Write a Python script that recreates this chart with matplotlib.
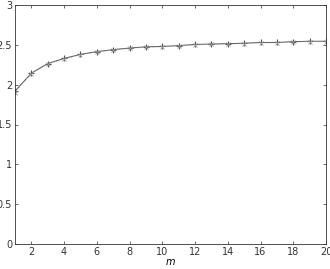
import matplotlib
matplotlib.use("Agg")
import matplotlib.pyplot as plt

m = list(range(1, 21))
series_a = [1.92, 2.145, 2.265, 2.33, 2.38, 2.415, 2.44, 2.46, 2.475, 2.48,
            2.49, 2.505, 2.51, 2.515, 2.52, 2.53, 2.53, 2.54, 2.545, 2.545]
series_b = [1.90, 2.14, 2.26, 2.32, 2.375, 2.41, 2.435, 2.455, 2.47, 2.475,
            2.485, 2.50, 2.505, 2.51, 2.515, 2.525, 2.525, 2.535, 2.54, 2.54]
xticks = [2, 4, 6, 8, 10, 12, 14, 16, 18, 20]
yticks = [0, 0.5, 1, 1.5, 2, 2.5, 3]
ytick_labels = ["0", "0.5", "1", "1.5", "2", "2.5", "3"]

fig = plt.figure(figsize=(3.30, 2.69), dpi=100)
ax = fig.add_axes([15/330, 25/269, 311/330, 239/269])
ax.plot(m, series_a, color="#555555", lw=0.7, marker="+", ms=5, mew=0.8)
ax.plot(m, series_b, color="#999999", lw=0.6, ls=":", marker="x", ms=3.5, mew=0.6)
ax.set_xlim(1, 20)
ax.set_ylim(0, 3)
ax.set_xticks(xticks)
ax.set_yticks(yticks)
ax.set_yticklabels(ytick_labels)
ax.tick_params(direction="in", length=2.5, width=0.5, labelsize=7, pad=2,
               top=True, right=True, colors="#333333")
for s in ax.spines.values():
    s.set_linewidth(0.6)
    s.set_color("#333333")
ax.set_xlabel("m", fontsize=7, style="italic", labelpad=0)
fig.savefig("out.png", dpi=100)
